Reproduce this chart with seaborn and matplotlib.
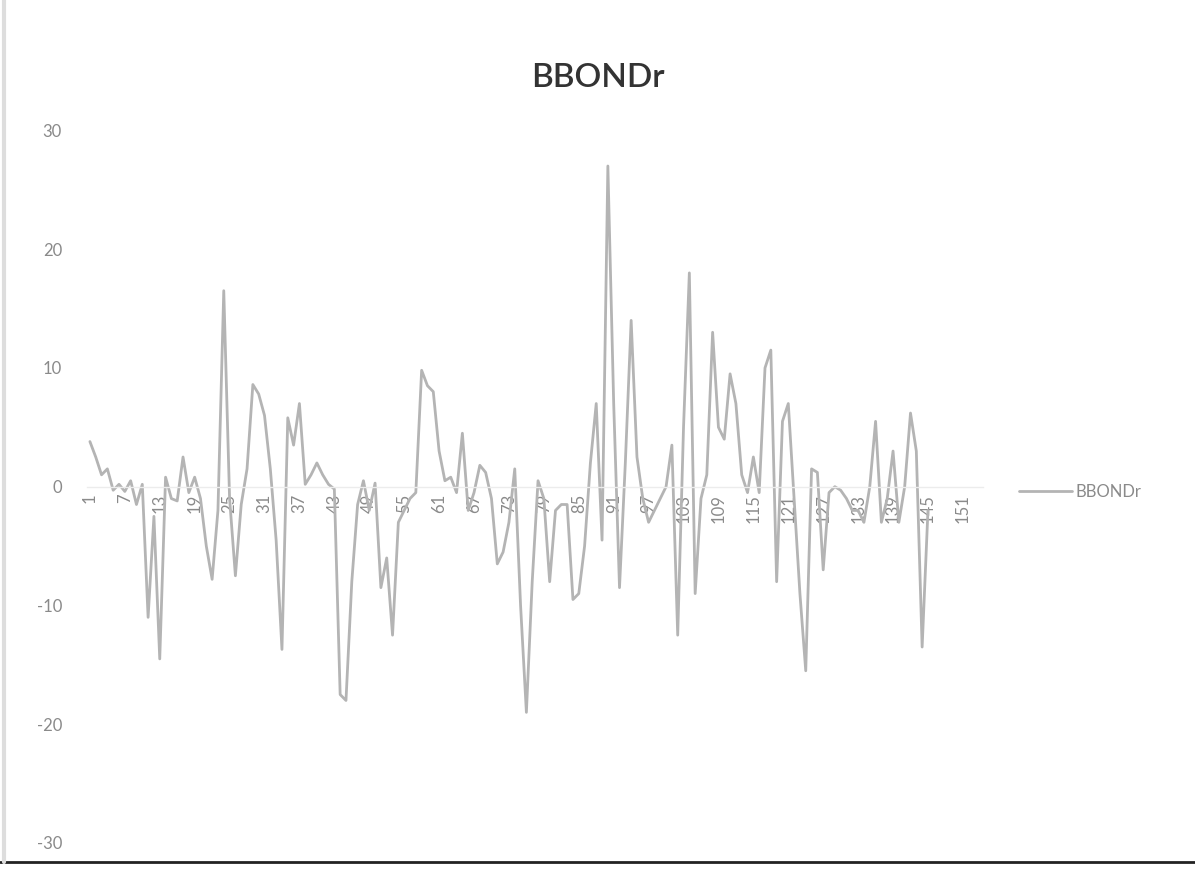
import numpy as np
import pandas as pd
import matplotlib
matplotlib.use("Agg")
import matplotlib.pyplot as plt
from matplotlib.lines import Line2D
import seaborn as sns

# Series values, one per period
bbondr = [
    3.8, 2.5, 1.0, 1.5, -0.3, 0.2, -0.4, 0.5, -1.5, 0.2,
    -11.0, -2.5, -14.5, 0.8, -1.0, -1.2, 2.5, -0.5, 0.8, -1.0,
    -5.0, -7.8, -2.0, 16.5, -1.0, -7.5, -1.5, 1.5, 8.6, 7.8,
    6.0, 1.5, -4.5, -13.7, 5.8, 3.5, 7.0, 0.2, 1.0, 2.0,
    1.0, 0.2, -0.2, -17.5, -18.0, -8.0, -1.5, 0.5, -2.0, 0.3,
    -8.5, -6.0, -12.5, -3.0, -2.0, -1.0, -0.5, 9.8, 8.5, 8.0,
    3.0, 0.5, 0.8, -0.5, 4.5, -2.0, -0.5, 1.8, 1.2, -1.0,
    -6.5, -5.5, -3.0, 1.5, -10.0, -19.0, -8.0, 0.5, -1.0, -8.0,
    -2.0, -1.5, -1.5, -9.5, -9.0, -5.0, 2.0, 7.0, -4.5, 27.0,
    7.0, -8.5, 2.0, 14.0, 2.5, -1.0, -3.0, -2.0, -1.0, 0.0,
    3.5, -12.5, 5.0, 18.0, -9.0, -1.0, 1.0, 13.0, 5.0, 4.0,
    9.5, 7.0, 1.0, -0.5, 2.5, -0.5, 10.0, 11.5, -8.0, 5.5,
    7.0, -1.0, -9.0, -15.5, 1.5, 1.2, -7.0, -0.5, 0.0, -0.3,
    -1.0, -2.0, -2.0, -3.0, 0.0, 5.5, -3.0, -1.0, 3.0, -3.0,
    0.0, 6.2, 3.0, -13.5, -2.0,
]
n_categories = 154
periods = list(range(1, len(bbondr) + 1))
x_tick_labels = [str(v) for v in range(1, n_categories + 1, 6)]
y_ticks = [-30, -20, -10, 0, 10, 20, 30]

df = pd.DataFrame({"period": periods, "BBONDr": bbondr})

sns.set_theme(style="white")
plt.rcParams["font.family"] = ["Lato", "DejaVu Sans"]
plt.rcParams["axes.unicode_minus"] = False

fig = plt.figure(figsize=(11.95, 8.93), dpi=100)
ax = fig.add_axes([0.0728, 0.056, 0.750, 0.798])

line_color = "#b4b4b4"
text_color = "#8a8a8a"

sns.lineplot(data=df, x="period", y="BBONDr", ax=ax, color=line_color,
             linewidth=2.0, label="BBONDr", legend=False)

# category axis crosses the value axis at zero
for side in ("top", "right", "left"):
    ax.spines[side].set_visible(False)
ax.spines["bottom"].set_position(("data", 0))
ax.spines["bottom"].set_color("#ececec")
ax.spines["bottom"].set_linewidth(1.0)

ax.set_xlim(0.5, n_categories + 0.5)
ax.set_ylim(-30, 30)
ax.set_yticks(y_ticks)
ax.set_yticklabels([str(v) for v in y_ticks], color=text_color, fontsize=12)
ax.set_xticks([int(s) for s in x_tick_labels])
ax.set_xticklabels(x_tick_labels, rotation=90, color=text_color, fontsize=12)
ax.tick_params(axis="both", length=0)
ax.tick_params(axis="y", pad=18)
ax.tick_params(axis="x", pad=5)
ax.set_xlabel("")
ax.set_ylabel("")

fig.text(0.5, 0.913, "BBONDr", ha="center", va="center", fontsize=24,
         color="#333333", fontweight="semibold")

handle = Line2D([], [], color=line_color, linewidth=2.0)
fig.legend([handle], ["BBONDr"], loc="center left",
           bbox_to_anchor=(0.84, 0.449), frameon=False, fontsize=12,
           labelcolor=text_color, handlelength=3.2, handletextpad=0.2)

# dark rule along the bottom of the page
fig.add_artist(Line2D([0.0, 1.0], [0.035, 0.035], color="#222222",
                      linewidth=2.0, transform=fig.transFigure))
fig.add_artist(Line2D([0.003, 0.003], [0.035, 1.0], color="#dddddd",
                      linewidth=3.0, transform=fig.transFigure))

fig.savefig("out.png", dpi=100, facecolor="white")
